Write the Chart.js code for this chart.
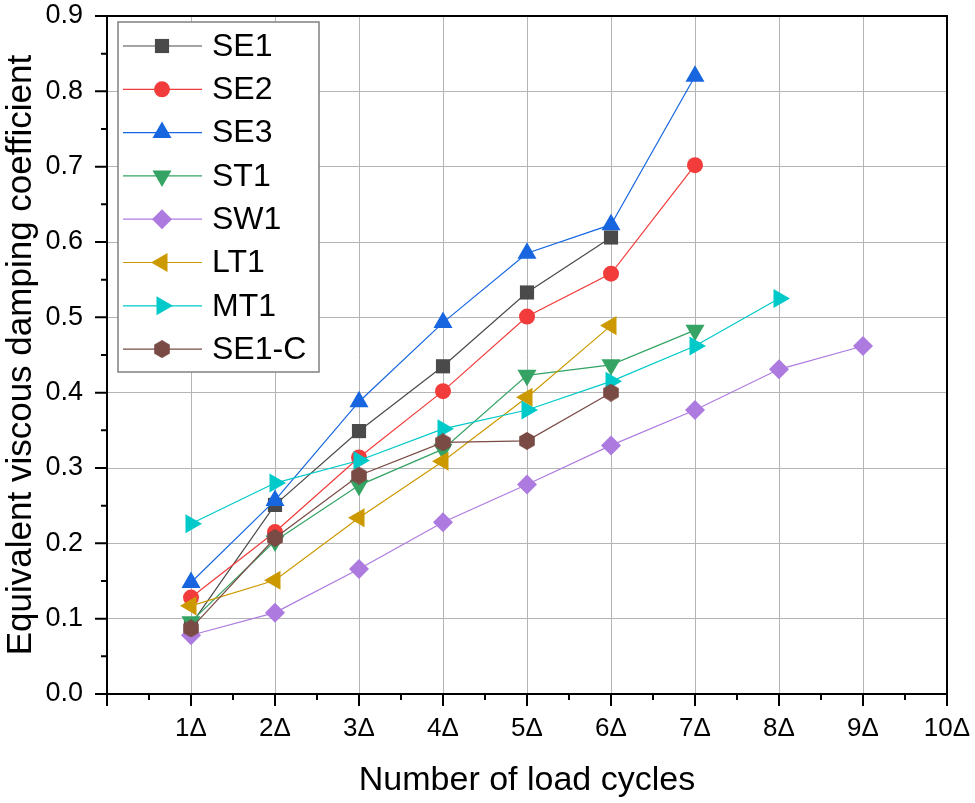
<!DOCTYPE html>
<html>
<head>
<meta charset="utf-8">
<title>Equivalent viscous damping coefficient</title>
<script src="https://cdn.jsdelivr.net/npm/chart.js@4.4.1/dist/chart.umd.min.js"></script>
<style>
  html, body { margin: 0; padding: 0; background: #fff; }
  #wrap { width: 975px; height: 803px; position: relative; }
</style>
</head>
<body>
<div id="wrap"><canvas id="chart"></canvas></div>
<script>
// ===== data =====
var cycles = [1, 2, 3, 4, 5, 6, 7, 8, 9];
var xTickValues = [0, 1, 2, 3, 4, 5, 6, 7, 8, 9, 10];
var yTickValues = [0, 0.1, 0.2, 0.3, 0.4, 0.5, 0.6, 0.7, 0.8, 0.9];

var seriesNames = ['SE1', 'SE2', 'SE3', 'ST1', 'SW1', 'LT1', 'MT1', 'SE1-C'];
var SE1  = [0.092, 0.251, 0.349, 0.435, 0.533, 0.606];
var SE2  = [0.128, 0.215, 0.314, 0.402, 0.501, 0.558, 0.702];
var SE3  = [0.148, 0.257, 0.388, 0.493, 0.585, 0.623, 0.820];
var ST1  = [0.096, 0.203, 0.277, 0.325, 0.423, 0.437, 0.483];
var SW1  = [0.078, 0.108, 0.166, 0.228, 0.278, 0.330, 0.377, 0.431, 0.462];
var LT1  = [0.117, 0.151, 0.234, 0.309, 0.394, 0.489];
var MT1  = [0.226, 0.280, 0.310, 0.352, 0.377, 0.415, 0.462, 0.525];
var SE1C = [0.087, 0.207, 0.290, 0.334, 0.336, 0.400];

var FONT = "'Liberation Sans', Arial, Helvetica, sans-serif";

// hexagon marker (no built-in style for it)
function hexMarker(color, size) {
  var c = document.createElement('canvas');
  c.width = size; c.height = size;
  var g = c.getContext('2d');
  var r = size / 2;
  g.fillStyle = color;
  g.beginPath();
  for (var i = 0; i < 6; i++) {
    var a = Math.PI / 2 + i * Math.PI / 3;
    var px = r + r * Math.cos(a), py = r - r * Math.sin(a);
    if (i === 0) g.moveTo(px, py); else g.lineTo(px, py);
  }
  g.closePath();
  g.fill();
  return c;
}

function pairs(values) {
  return values.map(function(v, i) { return { x: cycles[i], y: v }; });
}

var styles = [
  { color: '#4a4a4a', pointStyle: 'rect',     radius: 10, rotation: 0 },
  { color: '#f23b3b', pointStyle: 'circle',   radius: 8,  rotation: 0 },
  { color: '#1766e0', pointStyle: 'triangle', radius: 11, rotation: 0 },
  { color: '#34a363', pointStyle: 'triangle', radius: 11, rotation: 180 },
  { color: '#ad7be0', pointStyle: 'rectRot',  radius: 10, rotation: 0 },
  { color: '#cc9900', pointStyle: 'triangle', radius: 11, rotation: 270 },
  { color: '#00c9c9', pointStyle: 'triangle', radius: 11, rotation: 90 },
  { color: '#7a4a45', pointStyle: hexMarker('#7a4a45', 18), radius: 9, rotation: 0 }
];
var allValues = [SE1, SE2, SE3, ST1, SW1, LT1, MT1, SE1C];

var datasets = seriesNames.map(function(name, i) {
  var s = styles[i];
  return {
    label: name,
    data: pairs(allValues[i]),
    borderColor: s.color,
    backgroundColor: s.color,
    borderWidth: 1.2,
    pointStyle: s.pointStyle,
    pointRadius: s.radius,
    pointHoverRadius: s.radius,
    pointRotation: s.rotation,
    pointBorderWidth: 0,
    pointBackgroundColor: s.color,
    tension: 0,
    order: seriesNames.length - i   // later series drawn on top
  };
});

// frame, outward major/minor ticks
var frameTicks = {
  id: 'frameTicks',
  afterDraw: function(chart) {
    var ctx = chart.ctx, a = chart.chartArea;
    var xs = chart.scales.x, ys = chart.scales.y;
    ctx.save();
    ctx.strokeStyle = '#000';
    ctx.lineWidth = 2;
    ctx.strokeRect(a.left, a.top, a.right - a.left, a.bottom - a.top);
    ctx.beginPath();
    for (var k = 0; k <= 20; k++) {
      var px = xs.getPixelForValue(k / 2);
      var len = k % 2 === 0 ? 12 : 6;
      ctx.moveTo(px, a.bottom);
      ctx.lineTo(px, a.bottom + len);
    }
    for (var j = 0; j <= 18; j++) {
      var py = ys.getPixelForValue(j * 0.05);
      var ln = j % 2 === 0 ? 12 : 6;
      ctx.moveTo(a.left, py);
      ctx.lineTo(a.left - ln, py);
    }
    ctx.stroke();
    ctx.restore();
  }
};

// boxed legend inside the plot, top left
var boxLegend = {
  id: 'boxLegend',
  afterDraw: function(chart) {
    var ctx = chart.ctx;
    var left = 118, top = 22, w = 201, h = 350, rowH = 43.3, firstRow = 46;
    ctx.save();
    ctx.fillStyle = '#fff';
    ctx.fillRect(left, top, w, h);
    ctx.strokeStyle = '#808080';
    ctx.lineWidth = 1.5;
    ctx.strokeRect(left, top, w, h);
    chart.data.datasets.forEach(function(ds, i) {
      var y = firstRow + i * rowH;
      ctx.strokeStyle = ds.borderColor;
      ctx.lineWidth = 1.2;
      ctx.beginPath();
      ctx.moveTo(123, y);
      ctx.lineTo(202, y);
      ctx.stroke();
      ctx.fillStyle = ds.pointBackgroundColor;
      Chart.helpers.drawPoint(ctx, {
        pointStyle: ds.pointStyle,
        rotation: ds.pointRotation,
        radius: ds.pointRadius,
        borderWidth: 0
      }, 162, y);
      ctx.fillStyle = '#000';
      ctx.font = '32px ' + FONT;
      ctx.textBaseline = 'middle';
      ctx.textAlign = 'left';
      ctx.fillText(ds.label, 212, y + 1);
    });
    ctx.restore();
  }
};

new Chart(document.getElementById('chart'), {
  type: 'line',
  data: { datasets: datasets },
  options: {
    responsive: true,
    maintainAspectRatio: false,
    animation: false,
    layout: { padding: { top: 16, right: 28, left: 0, bottom: 0 } },
    plugins: { legend: { display: false }, tooltip: { enabled: false } },
    scales: {
      x: {
        type: 'linear',
        min: xTickValues[0],
        max: xTickValues[xTickValues.length - 1],
        afterBuildTicks: function(scale) {
          scale.ticks = xTickValues.map(function(v) { return { value: v }; });
        },
        afterFit: function(scale) {
          scale.height = 109;
          scale.paddingLeft = 0;
          scale.paddingRight = 0;
        },
        ticks: {
          autoSkip: false,
          maxRotation: 0,
          padding: 19,
          color: '#000',
          font: { family: FONT, size: 26 },
          callback: function(v) { return v === 0 ? '' : v + 'Δ'; }
        },
        grid: { color: '#b4b4b4', lineWidth: 1, drawTicks: false },
        border: { display: true, color: '#000', width: 2 },
        title: {
          display: true,
          text: 'Number of load cycles',
          color: '#000',
          font: { family: FONT, size: 34 },
          padding: { top: 0, bottom: 2 }
        }
      },
      y: {
        type: 'linear',
        min: yTickValues[0],
        max: yTickValues[yTickValues.length - 1],
        afterBuildTicks: function(scale) {
          scale.ticks = yTickValues.map(function(v) { return { value: v }; });
        },
        afterFit: function(scale) {
          scale.width = 107;
          scale.paddingTop = 0;
          scale.paddingBottom = 0;
        },
        ticks: {
          autoSkip: false,
          padding: 24,
          color: '#000',
          font: { family: FONT, size: 27 },
          callback: function(v) { return Number(v).toFixed(1); }
        },
        grid: { color: '#b4b4b4', lineWidth: 1, drawTicks: false },
        border: { display: true, color: '#000', width: 2 },
        title: {
          display: true,
          text: 'Equivalent viscous damping coefficient',
          color: '#000',
          font: { family: FONT, size: 35 },
          padding: { top: 0, bottom: 0 }
        }
      }
    }
  },
  plugins: [frameTicks, boxLegend]
});
</script>
</body>
</html>
